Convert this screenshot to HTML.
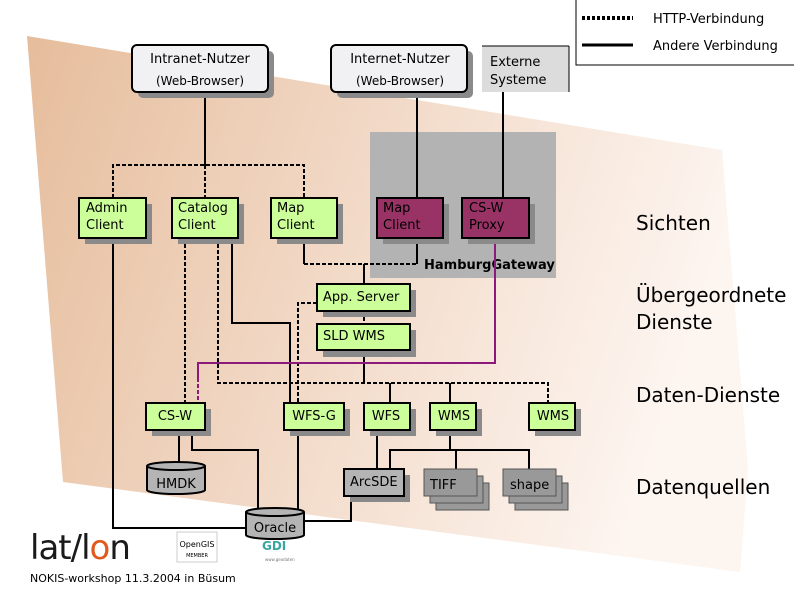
<!DOCTYPE html>
<html><head><meta charset="utf-8"><style>
html,body{margin:0;padding:0;background:#fff}
svg{display:block}
text{font-family:"DejaVu Sans","Liberation Sans",sans-serif}
</style></head><body>
<svg width="794" height="595" viewBox="0 0 794 595" xmlns="http://www.w3.org/2000/svg">
<defs>
<linearGradient id="bg" x1="0" y1="0" x2="1" y2="0.25">
<stop offset="0" stop-color="#e6bd9c"/>
<stop offset="0.55" stop-color="#f3dccb"/>
<stop offset="1" stop-color="#fdf5f0"/>
</linearGradient>
</defs>
<polygon points="27,36 722,150 748,470 740,572 63,482" fill="url(#bg)"/>
<!-- legend -->
<rect x="576" y="-1" width="219" height="66" fill="#fff" stroke="#000" stroke-width="1"/>
<line x1="582" y1="18" x2="633" y2="18" stroke="#000" stroke-width="4" stroke-dasharray="3,2"/>
<line x1="582" y1="45" x2="633" y2="45" stroke="#000" stroke-width="3"/>
<text x="653" y="23" font-size="13">HTTP-Verbindung</text>
<text x="653" y="50" font-size="13">Andere Verbindung</text>
<!-- gateway -->
<rect x="370" y="132" width="186" height="146" fill="#b3b3b3"/>
<text x="424" y="269" font-size="13" font-weight="bold">HamburgGateway</text>
<g fill="none" stroke="#000" stroke-width="2">
<path d="M205 92V165"/>
<path d="M417 92V198"/>
<path d="M503 92V198"/>
<path d="M304 238V264"/>
<path d="M417 238V264"/>
<path d="M364 264V284"/>
<path d="M364 350V383"/>
<path d="M390 383V403M450 383V403"/>
<path d="M232 238V323H290V403"/>
<path d="M113 238V528H245"/>
<path d="M179 430V463"/>
<path d="M192 430V450H258V510"/>
<path d="M298 430V510"/>
<path d="M377 430V469"/>
<path d="M450 430V450M390 469V450H529V469M456 450V469"/>
<path d="M351 496V521H304"/>
</g>
<g fill="none" stroke="#000" stroke-width="2" stroke-dasharray="4,2">
<path d="M113 198V165H304V198"/>
<path d="M205 165V198"/>
<path d="M304 264H417"/>
<path d="M364 311V324"/>
<path d="M317 303H298V403"/>
<path d="M185 238V403"/>
<path d="M218 238V383H548V403"/>
</g>
<path d="M495 238V363H198V378" fill="none" stroke="#8b1a7a" stroke-width="2"/>
<path d="M198 378V403" fill="none" stroke="#8b1a7a" stroke-width="2" stroke-dasharray="4,2"/>
<!-- top user boxes -->
<g>
<rect x="138" y="51" width="136" height="47" rx="5" fill="#8a8a8a"/>
<rect x="132" y="45" width="136" height="47" rx="5" fill="#f1f1f3" stroke="#000" stroke-width="2"/>
<text x="200" y="63" font-size="13" text-anchor="middle">Intranet-Nutzer</text>
<text x="200" y="85" font-size="12" text-anchor="middle">(Web-Browser)</text>
<rect x="337" y="51" width="136" height="47" rx="5" fill="#8a8a8a"/>
<rect x="331" y="45" width="136" height="47" rx="5" fill="#f1f1f3" stroke="#000" stroke-width="2"/>
<text x="400" y="63" font-size="13" text-anchor="middle">Internet-Nutzer</text>
<text x="400" y="85" font-size="12" text-anchor="middle">(Web-Browser)</text>
<rect x="482" y="46" width="87" height="46" fill="#dcdcdc"/>
<line x1="569" y1="46" x2="569" y2="92" stroke="#000"/>
<line x1="482" y1="46" x2="569" y2="46" stroke="#000"/>
<text x="490" y="66" font-size="13">Externe</text>
<text x="490" y="84" font-size="13">Systeme</text>
</g>
<!-- green boxes -->
<g font-size="13">
<g><rect x="85" y="204" width="67" height="40" fill="#8a8a8a"/><rect x="79" y="198" width="67" height="40" fill="#ccff99" stroke="#000" stroke-width="2"/><text x="86" y="212">Admin</text><text x="86" y="229">Client</text></g>
<g><rect x="178" y="204" width="66" height="40" fill="#8a8a8a"/><rect x="172" y="198" width="66" height="40" fill="#ccff99" stroke="#000" stroke-width="2"/><text x="178" y="212">Catalog</text><text x="178" y="229">Client</text></g>
<g><rect x="277" y="204" width="66" height="40" fill="#8a8a8a"/><rect x="271" y="198" width="66" height="40" fill="#ccff99" stroke="#000" stroke-width="2"/><text x="277" y="212">Map</text><text x="277" y="229">Client</text></g>
<g><rect x="383" y="204" width="66" height="40" fill="#8a8a8a"/><rect x="377" y="198" width="66" height="40" fill="#993366" stroke="#000" stroke-width="2"/><text x="383" y="212">Map</text><text x="383" y="229">Client</text></g>
<g><rect x="468" y="204" width="67" height="40" fill="#8a8a8a"/><rect x="462" y="198" width="67" height="40" fill="#993366" stroke="#000" stroke-width="2"/><text x="469" y="212">CS-W</text><text x="469" y="229">Proxy</text></g>
<g><rect x="323" y="290" width="93" height="27" fill="#8a8a8a"/><rect x="317" y="284" width="93" height="27" fill="#ccff99" stroke="#000" stroke-width="2"/><text x="323" y="301">App. Server</text></g>
<g><rect x="323" y="330" width="93" height="27" fill="#8a8a8a"/><rect x="317" y="324" width="93" height="26" fill="#ccff99" stroke="#000" stroke-width="2"/><text x="323" y="340">SLD WMS</text></g>
<g><rect x="152" y="409" width="59" height="27" fill="#8a8a8a"/><rect x="146" y="403" width="59" height="27" fill="#ccff99" stroke="#000" stroke-width="2"/><text x="175" y="420" text-anchor="middle">CS-W</text></g>
<g><rect x="290" y="409" width="60" height="27" fill="#8a8a8a"/><rect x="284" y="403" width="60" height="27" fill="#ccff99" stroke="#000" stroke-width="2"/><text x="314" y="420" text-anchor="middle">WFS-G</text></g>
<g><rect x="370" y="409" width="46" height="27" fill="#8a8a8a"/><rect x="364" y="403" width="46" height="27" fill="#ccff99" stroke="#000" stroke-width="2"/><text x="386" y="420" text-anchor="middle">WFS</text></g>
<g><rect x="436" y="409" width="46" height="27" fill="#8a8a8a"/><rect x="430" y="403" width="46" height="27" fill="#ccff99" stroke="#000" stroke-width="2"/><text x="454" y="420" text-anchor="middle">WMS</text></g>
<g><rect x="535" y="409" width="46" height="27" fill="#8a8a8a"/><rect x="529" y="403" width="46" height="27" fill="#ccff99" stroke="#000" stroke-width="2"/><text x="553" y="420" text-anchor="middle">WMS</text></g>
<g><rect x="350" y="475" width="60" height="27" fill="#8a8a8a"/><rect x="344" y="469" width="60" height="27" fill="#b4b4b4" stroke="#000" stroke-width="2"/><text x="350" y="486">ArcSDE</text></g>
<g stroke="#555" stroke-width="1">
<rect x="436" y="483" width="53" height="27" fill="#999"/>
<rect x="430" y="476" width="53" height="27" fill="#999"/>
<rect x="424" y="469" width="53" height="27" fill="#999"/>
<rect x="515" y="483" width="53" height="27" fill="#999"/>
<rect x="509" y="476" width="53" height="27" fill="#999"/>
<rect x="503" y="469" width="53" height="27" fill="#999"/>
</g>
<text x="430" y="489">TIFF</text>
<text x="510" y="489">shape</text>
<g stroke="#000" stroke-width="2" fill="#b4b4b4">
<path d="M147 466V490A29 4 0 0 0 205 490V466"/>
<ellipse cx="176" cy="466" rx="29" ry="4"/>
<path d="M246 512V535A29 4 0 0 0 304 535V512"/>
<ellipse cx="275" cy="512" rx="29" ry="4"/>
</g>
<text x="176" y="488" text-anchor="middle">HMDK</text>
<text x="275" y="532" text-anchor="middle">Oracle</text>
</g>
<g font-size="20">
<text x="636" y="230">Sichten</text>
<text x="636" y="302">Übergeordnete</text>
<text x="636" y="329">Dienste</text>
<text x="636" y="402">Daten-Dienste</text>
<text x="636" y="494">Datenquellen</text>
</g>
<text x="30" y="559" font-size="34" font-family="Liberation Sans" fill="#1a1a1a" letter-spacing="-1">lat/l<tspan fill="#e05a1e">o</tspan>n</text>
<rect x="177" y="532" width="40" height="30" fill="#fff" stroke="#ccc"/>
<text x="197" y="547" font-size="8" font-family="Liberation Serif" text-anchor="middle">OpenGIS</text>
<text x="197" y="557" font-size="5" text-anchor="middle">MEMBER</text>
<text x="262" y="550" font-size="12" font-weight="bold" fill="#3aa6a0">GDI</text>
<text x="265" y="561" font-size="4" fill="#777">www.geodaten</text>
<text x="30" y="582" font-size="11" font-family="Liberation Sans">NOKIS-workshop 11.3.2004 in Büsum</text>
</svg>
</body></html>
